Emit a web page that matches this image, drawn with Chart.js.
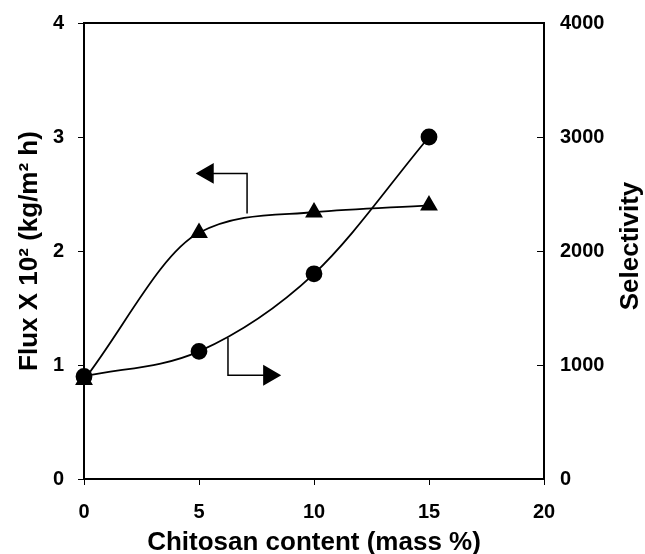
<!DOCTYPE html>
<html>
<head>
<meta charset="utf-8">
<script src="https://cdn.jsdelivr.net/npm/chart.js@4.4.0/dist/chart.umd.min.js"></script>
<style>
html, body { margin: 0; padding: 0; background: #fff; }
#wrap { width: 645px; height: 554px; }
</style>
</head>
<body>
<div id="wrap"><canvas id="chart"></canvas></div>
<script>
// chitosan content (mass %)
var content = [0, 5, 10, 15];
// flux x 10^2 (kg/m2 h) - triangles, left axis
var flux = [0.87, 2.16, 2.34, 2.40];
// selectivity - circles, right axis
var selectivity = [900, 1120, 1800, 3000];

var xTicks = [0, 5, 10, 15, 20];
var fluxTicks = [0, 1, 2, 3, 4];
var selTicks = [0, 1000, 2000, 3000, 4000];

// the two arrows saying which curve belongs to which axis (flux units)
var arrowLeftX = [7.09, 7.09, 5.38];
var arrowLeftY = [2.33, 2.68, 2.68];
var arrowRightX = [6.26, 6.26, 8.05];
var arrowRightY = [1.24, 0.91, 0.91];

function pts(xs, ys) {
	return xs.map(function(x, i) { return { x: x, y: ys[i] }; });
}
function fixTicks(list) {
	return function(scale) {
		scale.ticks = list.map(function(v) { return { value: v }; });
	};
}
// fixed axis sizes so the plot box lands where it does in the figure
function fixWidth(w) {
	return function(s) { s.width = w; s.paddingTop = 0; s.paddingBottom = 0; };
}

var FONT = "'Liberation Sans', Arial, Helvetica, sans-serif";
var tickFont = { family: FONT, size: 20, weight: 'bold' };
var titleFont = { family: FONT, size: 26, weight: 'bold', lineHeight: 1 };

// box round the plot area, plus the inward ticks of the right axis
var frame = {
	id: 'frame',
	beforeDatasetsDraw: function(chart) {
		var a = chart.chartArea, c = chart.ctx, s = chart.scales.y2;
		c.save();
		c.strokeStyle = '#000';
		c.lineWidth = 2;
		c.strokeRect(a.left, a.top, a.right - a.left, a.bottom - a.top);
		c.lineWidth = 1;
		c.beginPath();
		s.ticks.forEach(function(t) {
			var py = Math.round(s.getPixelForValue(t.value)) + 0.5;
			c.moveTo(a.right, py);
			c.lineTo(a.right - 7, py);
		});
		c.stroke();
		c.restore();
	}
};

// right axis title, read bottom to top like the left one
var rightTitle = {
	id: 'rightTitle',
	afterDraw: function(chart) {
		var s = chart.scales.y2, c = chart.ctx;
		c.save();
		c.translate(s.right - 14, (s.top + s.bottom) / 2 - 5);
		c.rotate(-Math.PI / 2);
		c.font = 'bold 26px ' + FONT;
		c.fillStyle = '#000';
		c.textAlign = 'center';
		c.textBaseline = 'middle';
		c.fillText('Selectivity', 0, 0);
		c.restore();
	}
};

var ctx = document.getElementById('chart');

var chart = new Chart(ctx, {
	type: 'line',
	data: {
		datasets: [
			{
				label: 'Flux',
				data: pts(content, flux),
				yAxisID: 'y',
				borderColor: '#000',
				backgroundColor: '#000',
				borderWidth: 1.8,
				pointStyle: 'triangle',
				pointRadius: 8.5,
				cubicInterpolationMode: 'monotone',
				clip: false
			},
			{
				label: 'Selectivity',
				data: pts(content, selectivity),
				yAxisID: 'y2',
				borderColor: '#000',
				backgroundColor: '#000',
				borderWidth: 1.8,
				pointStyle: 'circle',
				pointRadius: 7.5,
				cubicInterpolationMode: 'monotone',
				clip: false
			},
			{
				label: 'arrow left',
				data: pts(arrowLeftX, arrowLeftY),
				yAxisID: 'y',
				borderColor: '#000',
				backgroundColor: '#000',
				borderWidth: 1.5,
				tension: 0,
				pointStyle: 'triangle',
				rotation: 270,
				pointRadius: [0, 0, 10.5]
			},
			{
				label: 'arrow right',
				data: pts(arrowRightX, arrowRightY),
				yAxisID: 'y',
				borderColor: '#000',
				backgroundColor: '#000',
				borderWidth: 1.5,
				tension: 0,
				pointStyle: 'triangle',
				rotation: 90,
				pointRadius: [0, 0, 10.5]
			}
		]
	},
	options: {
		responsive: true,
		maintainAspectRatio: false,
		animation: false,
		layout: { padding: { top: 23, left: 0, right: 0, bottom: 0 } },
		plugins: {
			legend: { display: false },
			tooltip: { enabled: false }
		},
		scales: {
			x: {
				type: 'linear',
				position: 'bottom',
				min: 0,
				max: 20,
				afterBuildTicks: fixTicks(xTicks),
				afterFit: function(s) { s.height = 75; s.paddingLeft = 0; s.paddingRight = 0; },
				border: { display: false },
				grid: { drawOnChartArea: false, color: '#000', tickLength: 6 },
				ticks: { font: tickFont, color: '#000', padding: 15 },
				title: {
					display: true,
					text: 'Chitosan content (mass %)',
					font: titleFont,
					color: '#000',
					padding: { top: 0, bottom: -2 }
				}
			},
			y: {
				position: 'left',
				min: 0,
				max: 4,
				afterBuildTicks: fixTicks(fluxTicks),
				afterFit: fixWidth(84),
				border: { display: false },
				grid: { drawOnChartArea: false, color: '#000', tickLength: 6 },
				ticks: { font: tickFont, color: '#000', padding: 14 },
				title: {
					display: true,
					text: 'Flux X 10² (kg/m² h)',
					font: titleFont,
					color: '#000',
					padding: { top: 17, bottom: 0 }
				}
			},
			y2: {
				position: 'right',
				min: 0,
				max: 4000,
				afterBuildTicks: fixTicks(selTicks),
				afterFit: fixWidth(101),
				border: { display: false },
				grid: { drawOnChartArea: false, drawTicks: false },
				ticks: {
					font: tickFont,
					color: '#000',
					padding: 16,
					callback: function(v) { return String(v); }
				},
				title: { display: false }
			}
		}
	},
	plugins: [frame, rightTitle]
});
</script>
</body>
</html>
